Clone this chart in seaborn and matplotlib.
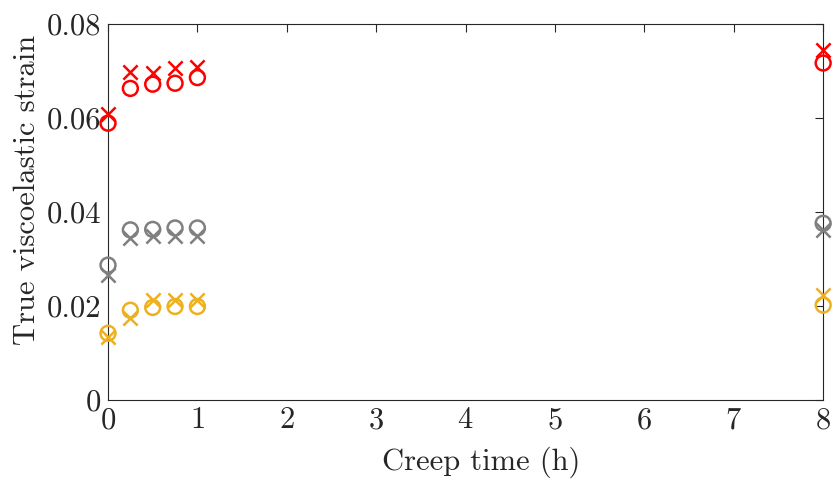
import matplotlib
matplotlib.use('Agg')
import matplotlib.pyplot as plt
import seaborn as sns
import pandas as pd

# Données
creep_time = [0, 0.25, 0.5, 0.75, 1, 8]
red_circle = [0.0589, 0.0663, 0.0672, 0.0674, 0.0686, 0.0717]
red_cross = [0.0608, 0.0698, 0.0695, 0.0706, 0.0709, 0.0745]
gray_circle = [0.0287, 0.0362, 0.0363, 0.0366, 0.0366, 0.0376]
gray_cross = [0.0266, 0.0344, 0.0348, 0.0350, 0.0350, 0.0362]
orange_circle = [0.0142, 0.0191, 0.0197, 0.0199, 0.0199, 0.0202]
orange_cross = [0.0135, 0.0174, 0.0212, 0.0213, 0.0213, 0.0223]

series = [
    (red_circle, '#FF0000', 'o'),
    (red_cross, '#FF0000', 'x'),
    (gray_circle, '#808080', 'o'),
    (gray_cross, '#808080', 'x'),
    (orange_circle, '#EDB120', 'o'),
    (orange_cross, '#EDB120', 'x'),
]

sns.set_style('white')
plt.rcParams['font.family'] = ['cmr10', 'DejaVu Serif']
plt.rcParams['axes.formatter.use_mathtext'] = True
plt.rcParams['axes.unicode_minus'] = False

fig = plt.figure(figsize=(8.34, 4.87), dpi=100)
ax = fig.add_axes([0.1295, 0.1786, 0.8575, 0.7721])

for values, color, marker in series:
    df = pd.DataFrame({'t': creep_time, 'strain': values})
    if marker == 'o':
        sns.scatterplot(data=df, x='t', y='strain', marker='o', s=115,
                        facecolors='none', edgecolor=color, linewidth=1.8,
                        ax=ax, zorder=3, clip_on=False)
    else:
        sns.scatterplot(data=df, x='t', y='strain', marker='x', s=105,
                        color=color, linewidth=1.8, ax=ax, zorder=3,
                        clip_on=False)

ax.set_xlim(0, 8)
ax.set_ylim(0, 0.08)
ax.set_xticks(range(0, 9))
ax.set_yticks([0, 0.02, 0.04, 0.06, 0.08])
ax.set_yticklabels(['0', '0.02', '0.04', '0.06', '0.08'])
ax.set_xlabel('Creep time (h)', fontsize=22)
ax.set_ylabel('True viscoelastic strain', fontsize=22)
ax.xaxis.set_label_coords(0.522, -0.125)
ax.yaxis.set_label_coords(-0.094, 0.56)
ax.tick_params(direction='in', length=6, width=0.8, labelsize=22,
               top=True, right=True, color='#262626', pad=5)
for sp in ax.spines.values():
    sp.set_color('#262626')
    sp.set_linewidth(0.8)
    sp.set_visible(True)

fig.savefig('out.png', dpi=100)
